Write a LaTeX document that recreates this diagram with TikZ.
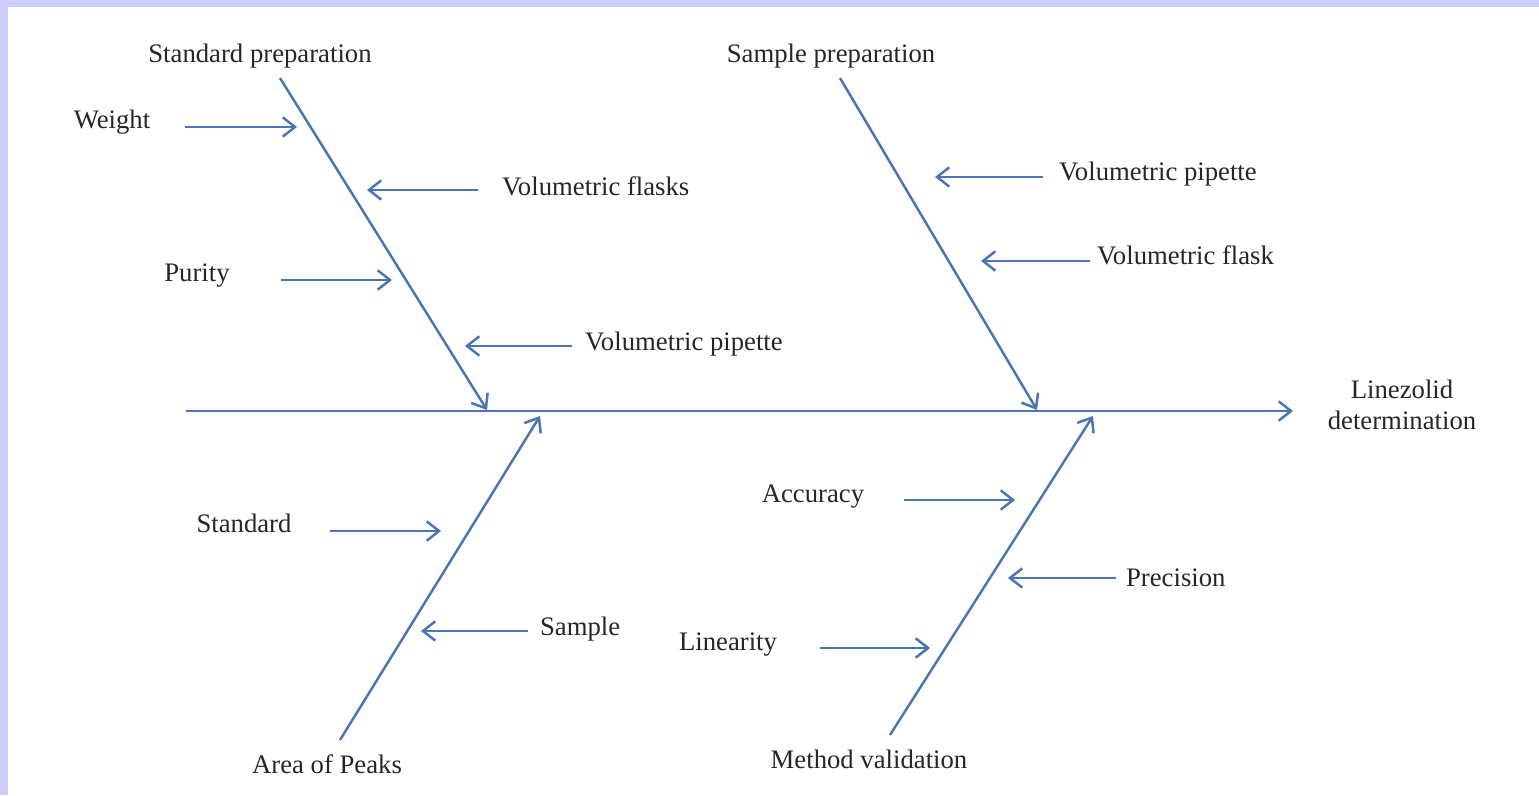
\documentclass[tikz,border=0pt]{standalone}
\usepackage{fontspec}
\setmainfont{Liberation Serif}
\usepackage{xcolor}
\usepackage{tikz}
\usetikzlibrary{arrows.meta}

\definecolor{bone}{HTML}{4A74B2}
\definecolor{frame}{HTML}{CCCCFF}

\tikzset{
  lbl/.style={font=\fontsize{15.2}{18}\selectfont, text=black!85, inner sep=1pt},
  cause/.style={draw=bone, line width=1.4pt, -{Straight Barb[length=7pt,width=11pt,line width=1.4pt]}},
  spine/.style={draw=bone, line width=1.4pt}
}

\begin{document}
\begin{tikzpicture}[scale=1]

% Frame
\fill[frame] (0,0) rectangle (30.78,15.9);
\fill[white] (0.16,0) rectangle (30.78,15.76);
\useasboundingbox (0,0) rectangle (30.78,15.9);

% Spine
\coordinate (tail) at (3.72,7.68);
\coordinate (head) at (25.86,7.68);
\draw[cause] (tail) -- (head);
\node[lbl, align=center] (effect) at (28.04,7.80) {Linezolid\\determination};

% Main bones
\coordinate (stdA) at (5.60,14.34);   \coordinate (stdB) at (9.74,7.70);
\coordinate (smpA) at (16.80,14.34);  \coordinate (smpB) at (20.74,7.70);
\coordinate (areaA) at (6.80,1.10);   \coordinate (areaB) at (10.80,7.58);
\coordinate (valA) at (17.80,1.20);   \coordinate (valB) at (21.86,7.58);
\draw[cause] (stdA) -- (stdB);
\draw[cause] (smpA) -- (smpB);
\draw[cause] (areaA) -- (areaB);
\draw[cause] (valA) -- (valB);

% Categories
\node[lbl] (stdprep) at (5.20,14.78) {Standard preparation};
\node[lbl] (smpprep) at (16.62,14.78) {Sample preparation};
\node[lbl] (area) at (6.54,0.62) {Area of Peaks};
\node[lbl] (valid) at (17.38,0.72) {Method validation};

% Standard preparation causes
\node[lbl] (weight) at (2.24,13.46) {Weight};
\coordinate (weightS) at (3.70,13.36); \coordinate (weightE) at (5.94,13.36);
\draw[cause] (weightS) -- (weightE);
\node[lbl, anchor=west] (flasks) at (10.00,12.18) {Volumetric flasks};
\coordinate (flasksS) at (9.56,12.10); \coordinate (flasksE) at (7.34,12.10);
\draw[cause] (flasksS) -- (flasksE);
\node[lbl] (purity) at (3.94,10.38) {Purity};
\coordinate (purityS) at (5.62,10.30); \coordinate (purityE) at (7.84,10.30);
\draw[cause] (purityS) -- (purityE);
\node[lbl, anchor=west] (pipL) at (11.66,9.02) {Volumetric pipette};
\coordinate (pipLS) at (11.44,8.98); \coordinate (pipLE) at (9.30,8.98);
\draw[cause] (pipLS) -- (pipLE);

% Sample preparation causes
\node[lbl, anchor=west] (pipR) at (21.14,12.42) {Volumetric pipette};
\coordinate (pipRS) at (20.86,12.36); \coordinate (pipRE) at (18.70,12.36);
\draw[cause] (pipRS) -- (pipRE);
\node[lbl, anchor=west] (flask) at (21.90,10.80) {Volumetric flask};
\coordinate (flaskS) at (21.80,10.68); \coordinate (flaskE) at (19.62,10.68);
\draw[cause] (flaskS) -- (flaskE);

% Area of peaks causes
\node[lbl] (standard) at (4.88,5.44) {Standard};
\coordinate (standardS) at (6.60,5.28); \coordinate (standardE) at (8.82,5.28);
\draw[cause] (standardS) -- (standardE);
\node[lbl, anchor=west] (sample) at (10.76,3.32) {Sample};
\coordinate (sampleS) at (10.56,3.28); \coordinate (sampleE) at (8.42,3.28);
\draw[cause] (sampleS) -- (sampleE);

% Method validation causes
\node[lbl] (accuracy) at (16.26,5.96) {Accuracy};
\coordinate (accuracyS) at (18.08,5.90); \coordinate (accuracyE) at (20.30,5.90);
\draw[cause] (accuracyS) -- (accuracyE);
\node[lbl, anchor=west] (precision) at (22.48,4.34) {Precision};
\coordinate (precisionS) at (22.32,4.34); \coordinate (precisionE) at (20.16,4.34);
\draw[cause] (precisionS) -- (precisionE);
\node[lbl] (linearity) at (14.56,3.00) {Linearity};
\coordinate (linearityS) at (16.40,2.94); \coordinate (linearityE) at (18.60,2.94);
\draw[cause] (linearityS) -- (linearityE);

\end{tikzpicture}
\end{document}
